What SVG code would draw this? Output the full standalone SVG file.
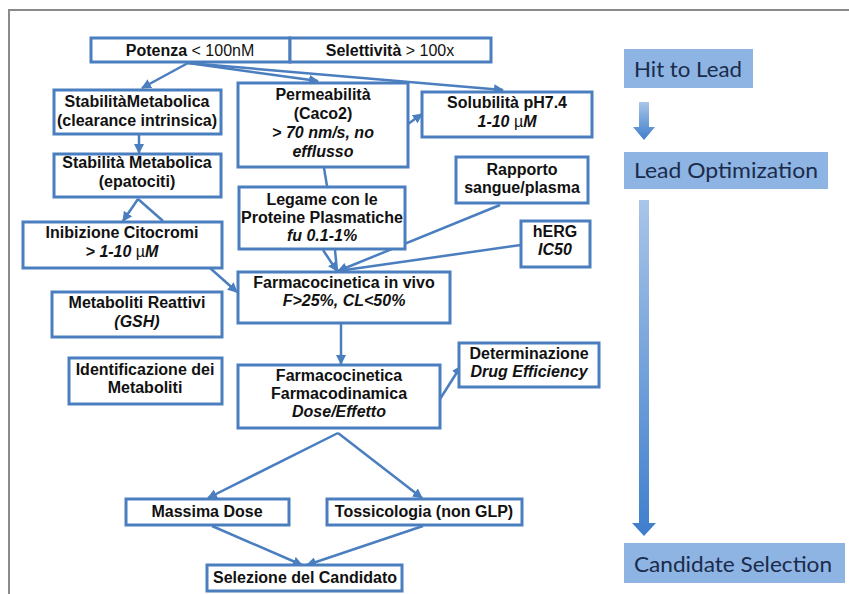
<svg xmlns="http://www.w3.org/2000/svg" width="849" height="594" viewBox="0 0 849 594">
<defs>
<style>
.box{fill:#fff;stroke:#4a7ebf;stroke-width:3}
.t{font-family:"Liberation Sans",Arial,sans-serif;font-size:16px;font-weight:bold;fill:#111;text-anchor:middle}
.n{font-weight:normal}
.i{font-style:italic}
.c{stroke:#4a7ebf;stroke-width:2.5;fill:none}
.a{marker-end:url(#ah)}
.phase{fill:#8db4e2}
.pt{font-family:Lato,"Open Sans",sans-serif;font-size:22px;fill:#1b2b4b}
</style>
<marker id="ah" viewBox="0 0 10 10" refX="9" refY="5" markerWidth="4" markerHeight="4" orient="auto" markerUnits="strokeWidth">
<path d="M0,0 L10,5 L0,10 z" fill="#4a7ebf"/>
</marker>
<linearGradient id="ag" x1="0" y1="0" x2="0" y2="1">
<stop offset="0" stop-color="#a9c5e8"/>
<stop offset="1" stop-color="#3f7ecd"/>
</linearGradient>
</defs>
<rect width="849" height="594" fill="#fff"/>
<path d="M9,594 V10 H849" fill="none" stroke="#8a8a8a" stroke-width="2"/>

<g id="connectors">
<line class="c a" x1="188" y1="63" x2="142" y2="88"/>
<line class="c a" x1="188" y1="63" x2="318" y2="81"/>
<line class="c a" x1="188" y1="63" x2="503" y2="90"/>
<line class="c a" x1="408" y1="124" x2="422" y2="114"/>
<line class="c a" x1="139" y1="135" x2="139" y2="153"/>
<line class="c a" x1="138" y1="199" x2="123" y2="221"/>
<line class="c" x1="138" y1="199" x2="163" y2="221"/>
<line class="c a" x1="210" y1="268" x2="237" y2="292"/>
<line class="c" x1="324" y1="168" x2="327" y2="186"/>
<line class="c a" x1="323" y1="250" x2="337" y2="271"/>
<line class="c" x1="335" y1="250" x2="337" y2="271"/>
<line class="c a" x1="500" y1="205" x2="338" y2="271"/>
<line class="c a" x1="521" y1="245" x2="338" y2="271"/>
<line class="c a" x1="341" y1="324" x2="341" y2="364"/>
<line class="c a" x1="440" y1="399" x2="461" y2="366"/>
<line class="c a" x1="338" y1="433" x2="208" y2="498"/>
<line class="c a" x1="338" y1="433" x2="422" y2="498"/>
<line class="c a" x1="212" y1="526" x2="302" y2="565"/>
<line class="c a" x1="423" y1="526" x2="307" y2="565"/>
</g>

<g id="potenza"><rect class="box" x="91" y="38" width="199" height="24"/><text class="t" x="190" y="56">Potenza<tspan class="n"> &lt; 100nM</tspan></text></g>
<g id="selettivita"><rect class="box" x="290" y="38" width="201" height="24"/><text class="t" x="390" y="56">Selettività<tspan class="n"> &gt; 100x</tspan></text></g>
<g id="stab-clear"><rect class="box" x="54" y="90" width="167" height="44"/><text class="t" x="137" y="107">StabilitàMetabolica</text><text class="t" x="137" y="126">(clearance intrinsica)</text></g>
<g id="stab-epat"><rect class="box" x="54" y="154" width="167" height="43"/><text class="t" x="137" y="168">Stabilità Metabolica</text><text class="t" x="137" y="187">(epatociti)</text></g>
<g id="inibizione"><rect class="box" x="23" y="222" width="199" height="46"/><text class="t" x="122" y="238">Inibizione Citocromi</text><text class="t" x="122" y="257"><tspan class="i">&gt; 1-10 </tspan><tspan class="n">µ</tspan><tspan class="i">M</tspan></text></g>
<g id="metaboliti-reattivi"><rect class="box" x="52" y="292" width="170" height="45"/><text class="t" x="137" y="308">Metaboliti Reattivi</text><text class="t i" x="137" y="327">(GSH)</text></g>
<g id="identificazione"><rect class="box" x="69" y="358" width="153" height="46"/><text class="t" x="145" y="375">Identificazione dei</text><text class="t" x="145" y="393">Metaboliti</text></g>
<g id="permeabilita"><rect class="box" x="238" y="83" width="170" height="84"/><text class="t" x="323" y="100">Permeabilità</text><text class="t" x="323" y="119">(Caco2)</text><text class="t i" x="323" y="138">&gt; 70 nm/s, no</text><text class="t i" x="323" y="157">efflusso</text></g>
<g id="solubilita"><rect class="box" x="422" y="92" width="170" height="45"/><text class="t" x="507" y="108">Solubilità pH7.4</text><text class="t" x="507" y="127"><tspan class="i">1-10 </tspan><tspan class="n">µ</tspan><tspan class="i">M</tspan></text></g>
<g id="rapporto"><rect class="box" x="456" y="157" width="132" height="46"/><text class="t" x="522" y="175">Rapporto</text><text class="t" x="522" y="193">sangue/plasma</text></g>
<g id="legame"><rect class="box" x="239" y="187" width="166" height="62"/><text class="t" x="322" y="205">Legame con le</text><text class="t" x="322" y="223">Proteine Plasmatiche</text><text class="t i" x="322" y="241">fu 0.1-1%</text></g>
<g id="herg"><rect class="box" x="521" y="221" width="69" height="46"/><text class="t" x="555" y="237">hERG</text><text class="t i" x="555" y="255">IC50</text></g>
<g id="pk-vivo"><rect class="box" x="238" y="272" width="212" height="51"/><text class="t" x="344" y="288">Farmacocinetica in vivo</text><text class="t i" x="344" y="306">F&gt;25%, CL&lt;50%</text></g>
<g id="determinazione"><rect class="box" x="459" y="343" width="140" height="44"/><text class="t" x="529" y="359">Determinazione</text><text class="t i" x="529" y="377">Drug Efficiency</text></g>
<g id="pk-pd"><rect class="box" x="238" y="365" width="202" height="63"/><text class="t" x="339" y="381">Farmacocinetica</text><text class="t" x="339" y="399">Farmacodinamica</text><text class="t i" x="339" y="417">Dose/Effetto</text></g>
<g id="massima-dose"><rect class="box" x="126" y="499" width="163" height="26"/><text class="t" x="207" y="517">Massima Dose</text></g>
<g id="tossicologia"><rect class="box" x="327" y="499" width="195" height="26"/><text class="t" x="424" y="517">Tossicologia (non GLP)</text></g>
<g id="selezione"><rect class="box" x="207" y="565" width="195" height="26"/><text class="t" x="305" y="583">Selezione del Candidato</text></g>

<g id="hit-to-lead"><rect class="phase" x="624" y="49" width="129" height="39"/><text class="pt" x="634" y="77" textLength="108" lengthAdjust="spacingAndGlyphs">Hit to Lead</text></g>
<g id="arrow-small"><path d="M639,102 H649 V127 H655 L644,140 L633,127 H639 Z" fill="url(#ag)"/></g>
<g id="lead-optimization"><rect class="phase" x="624" y="152" width="204" height="37"/><text class="pt" x="634" y="178" textLength="184" lengthAdjust="spacingAndGlyphs">Lead Optimization</text></g>
<g id="arrow-long"><path d="M639,200 H649 V523 H656 L644,536 L632,523 H639 Z" fill="url(#ag)"/></g>
<g id="candidate-selection"><rect class="phase" x="624" y="543" width="221" height="40"/><text class="pt" x="634" y="572" textLength="198" lengthAdjust="spacingAndGlyphs">Candidate Selection</text></g>
</svg>
